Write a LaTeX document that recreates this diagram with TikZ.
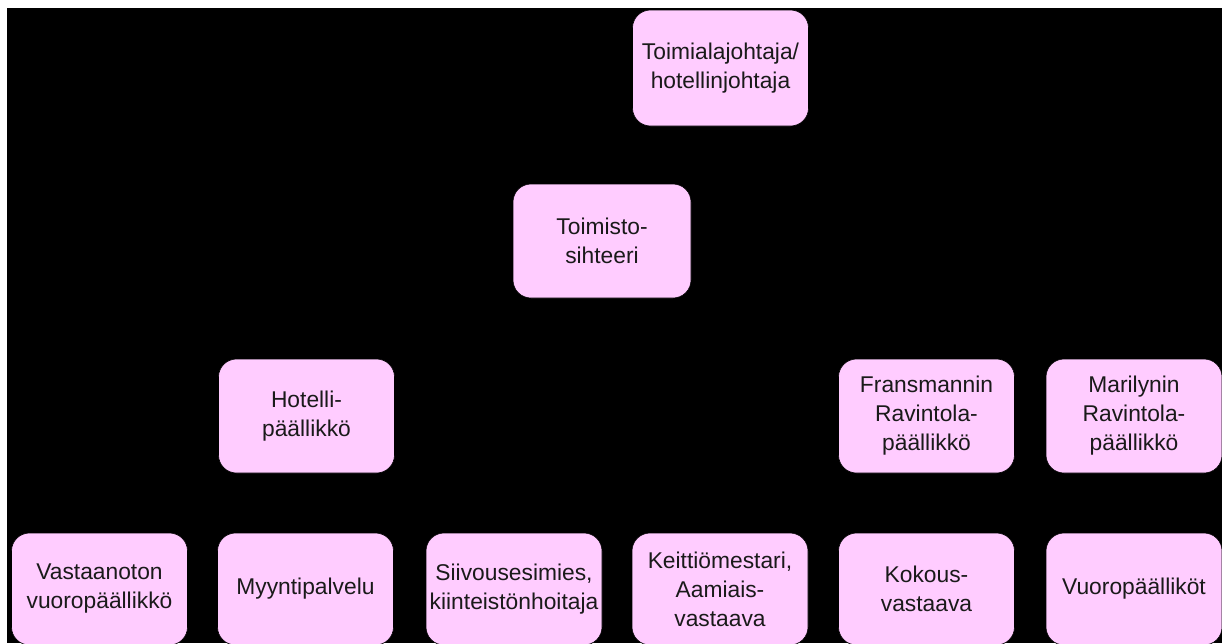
\documentclass[tikz,border=0pt]{standalone}
\usepackage{fontspec}
\setmainfont{Liberation Sans}
\definecolor{boxpink}{HTML}{FFCCFF}
\definecolor{boxtext}{HTML}{1A1A1A}
\begin{document}
\begin{tikzpicture}[x=1pt,y=-1pt,
  orgbox/.style={draw=black, line width=0.6pt, fill=boxpink, rounded corners=18pt,
    text=boxtext, align=center, inner sep=0pt,
    minimum width=176pt, minimum height=114pt,
    font=\fontsize{22.8}{29}\selectfont},
  lowbox/.style={orgbox, minimum height=112pt}]
\useasboundingbox (0,0) rectangle (1222,643);
\fill[white] (0,0) rectangle (1222,643);
\fill[black] (7,8) rectangle (1222,643);
\begin{scope}
\clip (7,8) rectangle (1222,643);
\node[orgbox, minimum height=116pt] (top) at (720.5,68) {Toimialajohtaja/\\hotellinjohtaja};
\node[orgbox, minimum width=178pt] (sec) at (602,241) {Toimisto-\\sihteeri};
\node[orgbox] (hot) at (306.5,416) {Hotelli-\\päällikkö};
\node[orgbox] (fra) at (926.5,416) {Fransmannin\\Ravintola-\\päällikkö};
\node[orgbox] (mar) at (1134,416) {Marilynin\\Ravintola-\\päällikkö};
\node[lowbox] (vas) at (99.5,589) {Vastaanoton\\vuoropäällikkö};
\node[lowbox] (myy) at (305.5,589) {Myyntipalvelu};
\node[lowbox] (sii) at (514,589) {Siivousesimies,\\kiinteistönhoitaja};
\node[lowbox] (kei) at (720,589) {Keittiömestari,\\Aamiais-\\vastaava};
\node[lowbox] (kok) at (926.5,589) {Kokous-\\vastaava};
\node[lowbox] (vuo) at (1134,589) {Vuoropäälliköt};
\end{scope}
\end{tikzpicture}
\end{document}
